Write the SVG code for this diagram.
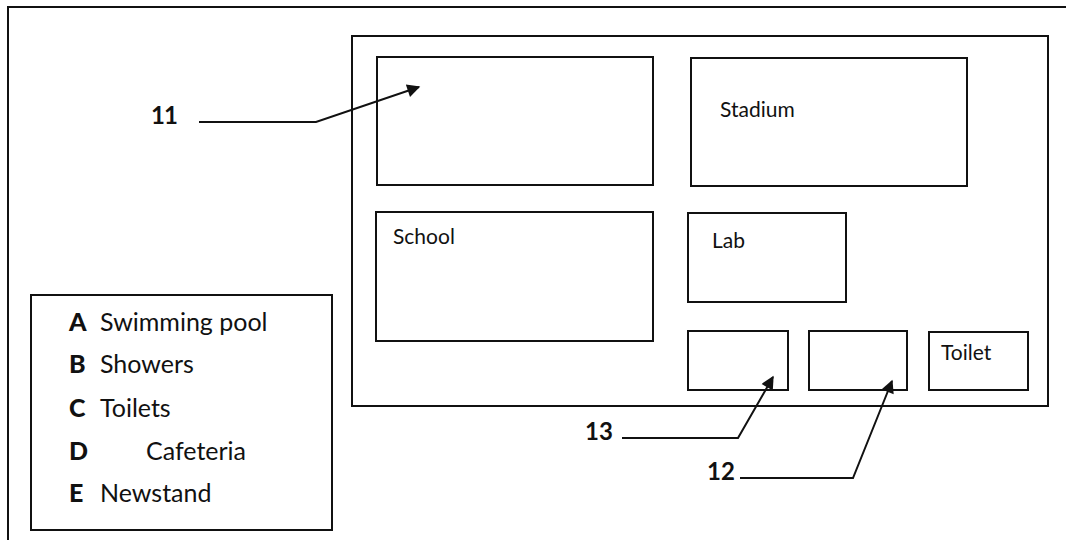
<svg xmlns="http://www.w3.org/2000/svg" width="1066" height="540" viewBox="0 0 1066 540">
<defs>
<style>
.box{fill:none;stroke:#111;stroke-width:2}
.lbl{font-family:Lato,"Open Sans",sans-serif;font-size:21px;fill:#111}
.leg{font-family:Lato,"Open Sans",sans-serif;font-size:25px;fill:#111}
.b{font-weight:900}
.num{font-family:Lato,"Open Sans",sans-serif;font-size:24px;font-weight:bold;fill:#111}
.con{fill:none;stroke:#111;stroke-width:2}
</style>
<marker id="ah" viewBox="0 0 10 10" refX="9" refY="5" markerWidth="7.5" markerHeight="6.5" orient="auto" markerUnits="strokeWidth">
<path d="M0,0 L10,5 L0,10 z" fill="#111"/>
</marker>
</defs>
<rect width="1066" height="540" fill="#fff"/>
<g id="page-frame"><path class="box" d="M8,540 V7 H1066"/></g>
<g id="map"><rect class="box" x="352" y="36" width="696" height="370"/></g>
<g id="box-11"><rect class="box" x="377" y="57" width="276" height="128"/></g>
<g id="stadium"><rect class="box" x="691" y="58" width="276" height="128"/><text class="lbl" x="720" y="117">Stadium</text></g>
<g id="school"><rect class="box" x="376" y="212" width="277" height="129"/><text class="lbl" x="393" y="244">School</text></g>
<g id="lab"><rect class="box" x="688" y="213" width="158" height="89"/><text class="lbl" x="712" y="248">Lab</text></g>
<g id="box-13"><rect class="box" x="688" y="331" width="100" height="59"/></g>
<g id="box-12"><rect class="box" x="809" y="331" width="98" height="59"/></g>
<g id="toilet"><rect class="box" x="929" y="332" width="99" height="58"/><text class="lbl" x="941" y="360">Toilet</text></g>
<g id="legend">
<rect class="box" x="31" y="295" width="301" height="235"/>
<text class="leg b" x="69" y="331">A</text><text class="leg" x="100" y="331">Swimming pool</text>
<text class="leg b" x="69" y="373">B</text><text class="leg" x="100" y="373">Showers</text>
<text class="leg b" x="69" y="417">C</text><text class="leg" x="100" y="417">Toilets</text>
<text class="leg b" x="69" y="460">D</text><text class="leg" x="146" y="460">Cafeteria</text>
<text class="leg b" x="69" y="502">E</text><text class="leg" x="100" y="502">Newstand</text>
</g>
<g id="labels">
<text class="num" x="151" y="124" letter-spacing="-1">11</text>
<text class="num" x="585" y="440">13</text>
<text class="num" x="707" y="480">12</text>
</g>
<g id="connectors">
<path class="con" marker-end="url(#ah)" d="M199,122 H316 L419,87"/>
<path class="con" marker-end="url(#ah)" d="M622,438 H738 L773,377"/>
<path class="con" marker-end="url(#ah)" d="M740,478 H853 L892,381"/>
</g>
</svg>
